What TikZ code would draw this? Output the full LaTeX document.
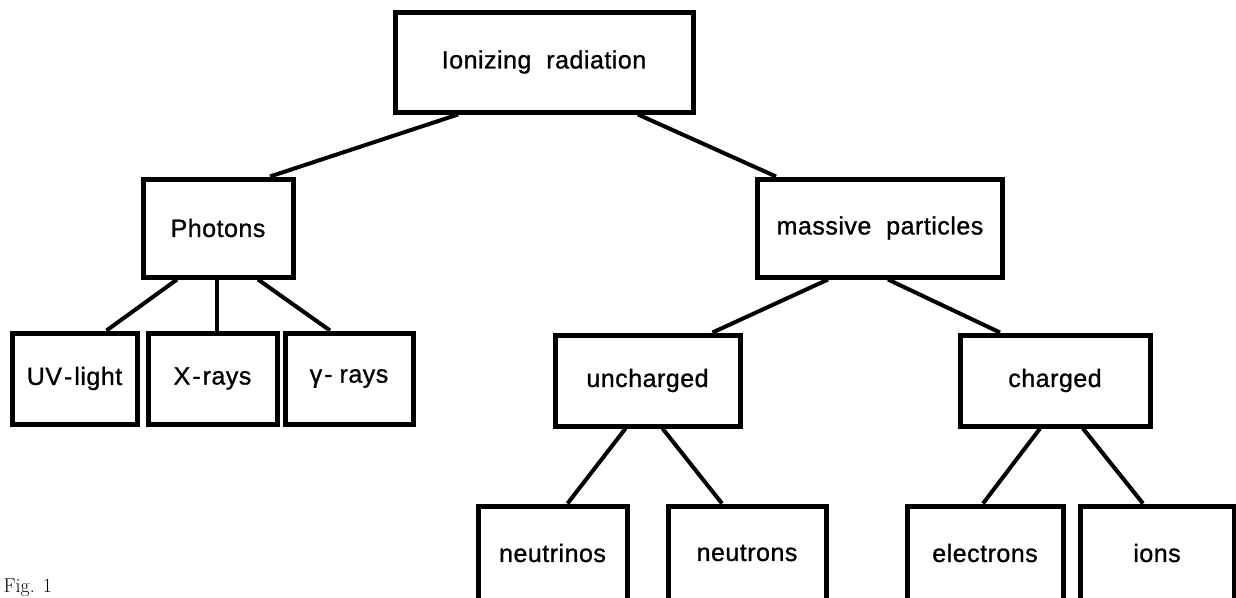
\documentclass[tikz,border=0pt]{standalone}
\usepackage{fontspec}
\newfontfamily\helv[LetterSpace=2,FakeBold=1]{Liberation Sans}
\newcommand\hy[1][2pt]{\kern2pt-\kern#1}
\begin{document}
\begin{tikzpicture}[x=1pt, y=-1pt,
	box/.style = {draw, line width=5pt, inner sep=0pt, font=\helv\fontsize{25}{30}\selectfont},
	link/.style = {line width=4pt}]
	\useasboundingbox (0,0) rectangle (1236,597);
	\node [box, minimum width=298, minimum height=100] (ion) at (544,62) {Ionizing~ radiation};
	\node [box, minimum width=150, minimum height=98] (pho) at (218,228) {Photons};
	\node [box, minimum width=245, minimum height=98] (mas) at (880,228) {massive~ particles};
	% third row
	\node [box, minimum width=125, minimum height=91] (uv) at (74.5,378.5) {UV\hy light};
	\node [box, minimum width=129, minimum height=91] (xr) at (212.5,378.5) {X\hy rays};
	\node [box, minimum width=128, minimum height=91] (gr) at (349,378.5) {γ\hy[7pt]rays};
	\node [box, minimum width=185, minimum height=91] (unc) at (647.5,380.5) {uncharged};
	\node [box, minimum width=190, minimum height=91] (chg) at (1055,380.5) {charged};
	% last row, cut off at the bottom
	\node [box, minimum width=149, minimum height=94] (nut) at (552.5,553) {neutrinos};
	\node [box, minimum width=158, minimum height=94] (neu) at (747,553) {neutrons};
	\node [box, minimum width=156, minimum height=94] (ele) at (985,553) {electrons};
	\node [box, minimum width=154, minimum height=94] (ions) at (1157,553) {ions};
	\node [anchor=base west, font=\fontsize{20}{24}\selectfont] (fig) at (0,592) {Fig. 1};
	\draw [link] ([xshift=-86]ion.south) -- ([xshift=52]pho.north);
	\draw [link] ([xshift=94]ion.south) -- ([xshift=-104]mas.north);
	\draw [link] ([xshift=-41]pho.south) -- ([xshift=32]uv.north);
	\draw [link] ([xshift=-1]pho.south) -- ([xshift=4.5]xr.north);
	\draw [link] ([xshift=40]pho.south) -- ([xshift=-19]gr.north);
	\draw [link] ([xshift=-52]mas.south) -- ([xshift=65]unc.north);
	\draw [link] ([xshift=8]mas.south) -- ([xshift=-55]chg.north);
	\draw [link] ([xshift=-22]unc.south) -- ([xshift=15]nut.north);
	\draw [link] ([xshift=15]unc.south) -- ([xshift=-25]neu.north);
	\draw [link] ([xshift=-15]chg.south) -- ([xshift=-2]ele.north);
	\draw [link] ([xshift=28]chg.south) -- ([xshift=-14]ions.north);
\end{tikzpicture}
\end{document}
